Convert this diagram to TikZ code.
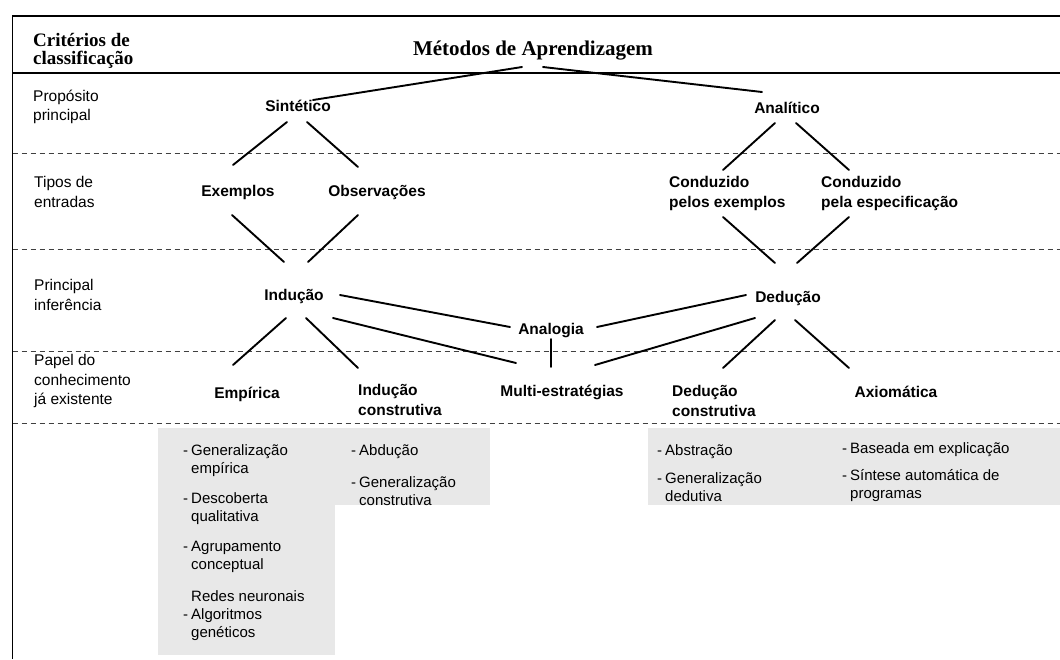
\documentclass[tikz,border=0pt]{standalone}
\usepackage{fontspec}
\setmainfont{Liberation Serif}
\setsansfont{Liberation Sans}
\usetikzlibrary{calc}
\newcommand\lidash{\makebox[8pt][l]{-}}
\begin{document}
\begin{tikzpicture}[x=1pt,y=-1pt,
  frame/.style={line width=1.3pt,black},
  sepline/.style={line width=0.9pt,dash pattern=on 5pt off 4pt,black!75},
  conn/.style={line width=1.9pt,line cap=round},
  ttl/.style={font=\rmfamily\bfseries\fontsize{21}{17}\selectfont,inner sep=0pt},
  crit/.style={font=\rmfamily\bfseries\fontsize{19}{17.5}\selectfont,inner sep=0pt,align=left,anchor=west},
  hdr/.style={font=\sffamily\bfseries\fontsize{15.5}{20}\selectfont,inner sep=0pt,text height=11pt,text depth=0pt},
  hdrl/.style={font=\sffamily\bfseries\fontsize{15.5}{20}\selectfont,inner sep=0pt,align=left,anchor=west},
  lbl/.style={font=\sffamily\fontsize{15.5}{19.5}\selectfont,inner sep=0pt,align=left,anchor=west},
  lst/.style={font=\sffamily\fontsize{15}{18}\selectfont,inner sep=0pt,align=left,anchor=west},
  shade/.style={fill=black!9}]
\useasboundingbox (0,0) rectangle (1060,659);
\fill[white] (0,0) rectangle (1060,659);
% shaded list areas
\fill[shade] (158,428) rectangle (335,655);
\fill[shade] (335,428) rectangle (490,505);
\fill[shade] (648,428) rectangle (1060,505);
% frame
\draw[frame] (12.5,659) -- (12.5,16) -- (1060,16);
\draw[frame] (12.5,73) -- (1060,73);
\draw[sepline] (12.5,153) -- (1060,153);
\draw[sepline] (12.5,249) -- (1060,249);
\draw[sepline] (12.5,351) -- (1060,351);
\draw[sepline] (12.5,423) -- (1060,423);
% titles and row labels
\node[crit] (crit) at (33,51) {Critérios de\\classificação};
\node[ttl] (met) at (533,51) {Métodos de Aprendizagem};
\node[lbl] (l1) at (33,107) {Propósito\\principal};
\node[lbl] (l2) at (34,192) {Tipos de\\entradas};
\node[lbl] (l3) at (34,295) {Principal\\inferência};
\node[lbl] (l4) at (34,381) {Papel do\\conhecimento\\já existente};
% tree nodes
\node[hdr] (sint) at (298,106) {Sintético};
\node[hdr] (anal) at (787,108) {Analítico};
\node[hdr] (ex) at (238,191) {Exemplos};
\node[hdr] (obs) at (377,191) {Observações};
\node[hdrl] (c1) at (669,193) {Conduzido\\pelos exemplos};
\node[hdrl] (c2) at (821,193) {Conduzido\\pela especificação};
\node[hdr] (ind) at (294,295) {Indução};
\node[hdr] (ded) at (788,297) {Dedução};
\node[hdr] (ana) at (551,329) {Analogia};
\node[hdr] (emp) at (247,393) {Empírica};
\node[hdrl] (ic) at (358,400) {Indução\\construtiva};
\node[hdr] (multi) at (562,391) {Multi-estratégias};
\node[hdrl] (dc) at (672,401) {Dedução\\construtiva};
\node[hdr] (axi) at (896,392) {Axiomática};
% lists
\node[lst] (e1) at (183,461) {\lidash Generalização\\\hspace*{8pt}empírica};
\node[lst] (e2) at (183,509) {\lidash Descoberta\\\hspace*{8pt}qualitativa};
\node[lst] (e3) at (183,557) {\lidash Agrupamento\\\hspace*{8pt}conceptual};
\node[lst] (e4) at (191,596) {Redes neuronais};
\node[lst] (e5) at (183,625) {\lidash Algoritmos\\\hspace*{8pt}genéticos};
\node[lst] (i1) at (351,452) {\lidash Abdução};
\node[lst] (i2) at (351,491) {\lidash Generalização\\\hspace*{8pt}construtiva};
\node[lst] (d1) at (657,452) {\lidash Abstração};
\node[lst] (d2) at (657,487) {\lidash Generalização\\\hspace*{8pt}dedutiva};
\node[lst] (a1) at (842,450) {\lidash Baseada em explicação};
\node[lst] (a2) at (842,486) {\lidash Síntese automática de\\\hspace*{8pt}programas};
% connectors
\draw[conn] ($(met)+(-11,16)$) -- ($(sint)+(15,-6)$);
\draw[conn] ($(met)+(10,16)$) -- ($(anal)+(-25,-16)$);
\draw[conn] ($(sint)+(-11,16)$) -- ($(ex)+(-5,-26)$);
\draw[conn] ($(sint)+(9,16)$) -- ($(obs)+(-19,-24)$);
\draw[conn] ($(anal)+(-12,15)$) -- ($(c1.west)+(54,-23)$);
\draw[conn] ($(anal)+(9,15)$) -- ($(c2.west)+(28,-23)$);
\draw[conn] ($(ex)+(-6,24)$) -- ($(ind)+(-10,-33)$);
\draw[conn] ($(obs)+(-19,24)$) -- ($(ind)+(14,-33)$);
\draw[conn] ($(c1.west)+(54,24)$) -- ($(ded)+(-13,-34)$);
\draw[conn] ($(c2.west)+(28,24)$) -- ($(ded)+(9,-34)$);
\draw[conn] ($(ind)+(46,0)$) -- ($(ana)+(-41,-2)$);
\draw[conn] ($(ind)+(39,23)$) -- ($(multi)+(-46,-28)$);
\draw[conn] ($(ind)+(-8,23)$) -- ($(emp)+(-14,-28)$);
\draw[conn] ($(ind)+(12,23)$) -- ($(ic.west)+(0,-32)$);
\draw[conn] ($(ded)+(-42,-2)$) -- ($(ana)+(46,-2)$);
\draw[conn] ($(ded)+(-33,21)$) -- ($(multi)+(33,-26)$);
\draw[conn] ($(ded)+(-13,23)$) -- ($(dc.west)+(51,-33)$);
\draw[conn] ($(ded)+(7,23)$) -- ($(axi)+(-47,-24)$);
\draw[conn] ($(ana)+(0,10)$) -- ($(multi)+(-11,-24)$);
\end{tikzpicture}
\end{document}
